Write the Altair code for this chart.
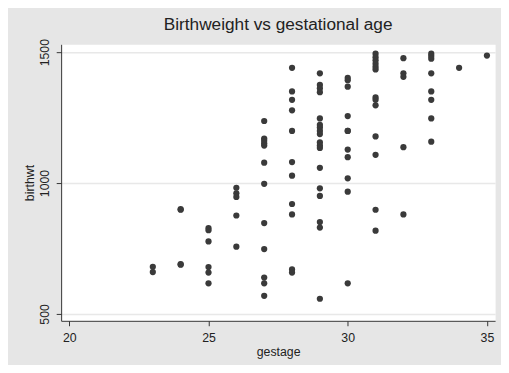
import altair as alt
import pandas as pd

# gestational age (weeks) for each baby
gestage = (
    [23] * 2 + [24] * 4 + [25] * 6 + [26] * 5 + [27] * 12 + [28] * 11
    + [29] * 18 + [30] * 11 + [31] * 13 + [32] * 5 + [33] * 8 + [34] + [35]
)
# birthweight (g) for each baby, in the same order
birthwt = (
    [680, 660]
    + [900, 898, 690, 688]
    + [828, 820, 777, 679, 658, 617]
    + [982, 961, 947, 876, 757]
    + [1237, 1170, 1162, 1152, 1143, 1078, 997, 847, 748, 639, 617, 569]
    + [1440, 1350, 1318, 1278, 1199, 1080, 1028, 920, 880, 670, 658]
    + [1419, 1375, 1362, 1347, 1247, 1222, 1212, 1199, 1187, 1155, 1143, 1134,
       1058, 980, 951, 851, 830, 558]
    + [1402, 1393, 1368, 1256, 1199, 1199, 1128, 1099, 1018, 967, 617]
    + [1494, 1481, 1469, 1456, 1444, 1434, 1327, 1318, 1297, 1178, 1108, 898, 818]
    + [1477, 1419, 1406, 1137, 880]
    + [1494, 1485, 1475, 1419, 1350, 1318, 1247, 1158]
    + [1440]
    + [1487]
)

x_ticks = [20, 25, 30, 35]
y_ticks = [500, 1000, 1500]

df = pd.DataFrame({"gestage": gestage, "birthwt": birthwt})

FONT = "Liberation Sans"
TXT = "#222222"

chart = (
    alt.Chart(df)
    .mark_circle(size=40, color="#3a3a3a", opacity=1)
    .encode(
        x=alt.X(
            "gestage:Q",
            scale=alt.Scale(domain=[19.707, 35.293], nice=False, zero=False),
            axis=alt.Axis(
                values=x_ticks, title="gestage", grid=False, format="d",
                domainColor="#333333", tickColor="#333333", tickSize=5,
                labelPadding=6, labelFontSize=12.5, labelFont=FONT, labelColor=TXT,
                titleFontSize=12.5, titleFont=FONT, titleColor=TXT,
                titleFontWeight="normal", titlePadding=2,
            ),
        ),
        y=alt.Y(
            "birthwt:Q",
            scale=alt.Scale(domain=[473.7, 1530], nice=False, zero=False),
            axis=alt.Axis(
                values=y_ticks, title="birthwt", grid=True, gridColor="#e8e8e8",
                gridWidth=1.5, format="d",
                domainColor="#333333", tickColor="#333333", tickSize=5,
                labelAngle=-90, labelAlign="center", labelBaseline="bottom",
                labelPadding=5, labelFontSize=12.5, labelFont=FONT, labelColor=TXT,
                titleFontSize=12.5, titleFont=FONT, titleColor=TXT,
                titleFontWeight="normal", titlePadding=2,
            ),
        ),
    )
    .properties(
        width=441,
        height=281,
        title=alt.TitleParams(
            "Birthweight vs gestational age", fontSize=17.5, font=FONT,
            fontWeight="normal", color=TXT, anchor="middle", offset=5,
        ),
        autosize=alt.AutoSizeParams(type="none"),
        padding={"left": 54, "top": 34, "right": 6, "bottom": 42},
        background="#e6e6e6",
    )
    .configure_view(fill="white", stroke="transparent")
)

chart.save("out.html", embed_options={"renderer": "svg", "actions": False})
